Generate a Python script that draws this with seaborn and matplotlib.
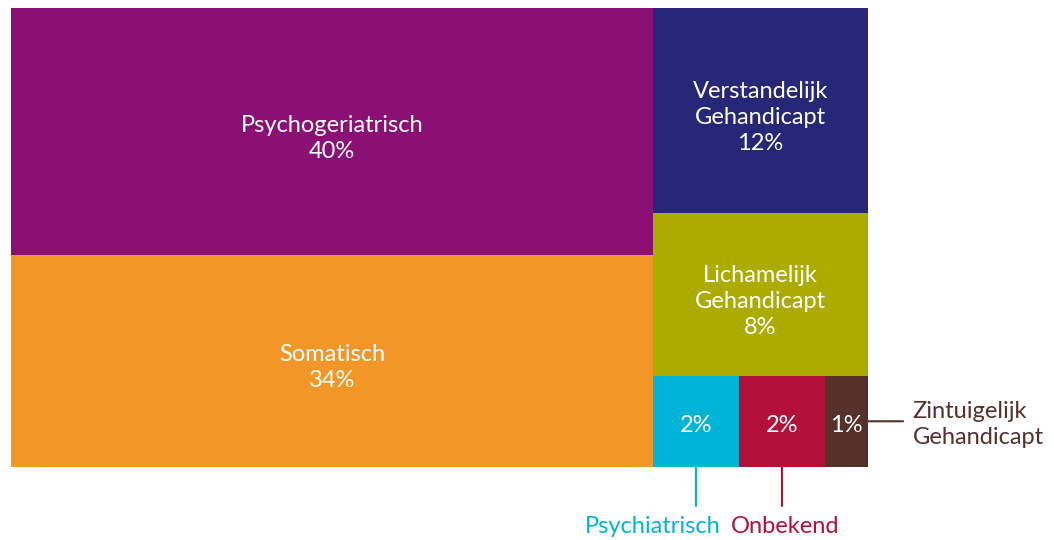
import seaborn as sns
import matplotlib.pyplot as plt

categories = ["Psychogeriatrisch", "Somatisch", "Verstandelijk\nGehandicapt",
              "Lichamelijk\nGehandicapt", "Psychiatrisch", "Onbekend",
              "Zintuigelijk\nGehandicapt"]
values = [40.3, 34.6, 11.2, 8.9, 2.0, 2.0, 1.0]
pct_labels = ["40%", "34%", "12%", "8%", "2%", "2%", "1%"]
colors = ["#8a1076", "#f29727", "#262877", "#abab00", "#00b4d8", "#b21038", "#56302a"]

sns.set_style("white")
plt.rcParams["font.family"] = ["Lato", "DejaVu Sans"]
fs = 17

fig = plt.figure(figsize=(10.54, 5.4), dpi=100)
ax = fig.add_axes([11 / 1054, 73 / 540, 857 / 1054, 459 / 540])

total = sum(values)
left = values[:2]
right = values[2:]
bottom_row = values[4:]

# layout: linker kolom (2 gestapeld), rechter kolom (2 gestapeld + rij van 3)
rects = []
lw = sum(left) / total
top = 1.0
for v in left:
    h = v / sum(left)
    rects.append((0, top - h, lw, h))
    top -= h
rw = 1 - lw
top = 1.0
for v in right[:2]:
    h = v / sum(right)
    rects.append((lw, top - h, rw, h))
    top -= h
x = lw
for v in bottom_row:
    w = rw * v / sum(bottom_row)
    rects.append((x, 0, w, top))
    x += w

for (x0, y0, w, h), c in zip(rects, colors):
    ax.bar(x0, h, width=w, bottom=y0, align="edge", color=c, edgecolor="none")

for i, ((x0, y0, w, h), name, p) in enumerate(zip(rects, categories, pct_labels)):
    cx, cy = x0 + w / 2, y0 + h / 2
    txt = f"{name}\n{p}" if i < 4 else p
    ax.annotate(txt, xy=(cx, cy), xytext=(0, -5 if i < 4 else -3),
                textcoords="offset points", ha="center", va="center",
                color="white", fontsize=fs, linespacing=1.3)

# labels buiten de kleine vlakken
x0, y0, w, h = rects[4]
ax.annotate("", xy=(x0 + w / 2, y0), xytext=(x0 + w / 2, y0 - 0.085),
            annotation_clip=False,
            arrowprops=dict(arrowstyle="-", color=colors[4], lw=1.5,
                            shrinkA=0, shrinkB=0))
ax.annotate(categories[4], xy=(x0, y0), xytext=(0, -43),
            textcoords="offset points", ha="center", va="center",
            color=colors[4], fontsize=fs, annotation_clip=False)
x0, y0, w, h = rects[5]
ax.annotate(categories[5], xy=(x0 + w / 2, y0), xytext=(2, -43),
            textcoords="offset points", ha="center", va="center",
            color=colors[5], fontsize=fs, annotation_clip=False)
ax.annotate("", xy=(x0 + w / 2, y0), xytext=(x0 + w / 2, y0 - 0.085),
            annotation_clip=False,
            arrowprops=dict(arrowstyle="-", color=colors[5], lw=1.5,
                            shrinkA=0, shrinkB=0))
x0, y0, w, h = rects[6]
ax.annotate("", xy=(x0 + w, y0 + h / 2), xytext=(x0 + w + 0.041, y0 + h / 2),
            annotation_clip=False,
            arrowprops=dict(arrowstyle="-", color=colors[6], lw=1.5,
                            shrinkA=0, shrinkB=0))
ax.annotate(categories[6], xy=(x0 + w, y0 + h / 2), xytext=(32, -2),
            textcoords="offset points", ha="left", va="center",
            color=colors[6], fontsize=fs, linespacing=1.3, annotation_clip=False)

ax.set_xlim(0, 1)
ax.set_ylim(0, 1)
ax.axis("off")

fig.savefig("out.png", dpi=100)
